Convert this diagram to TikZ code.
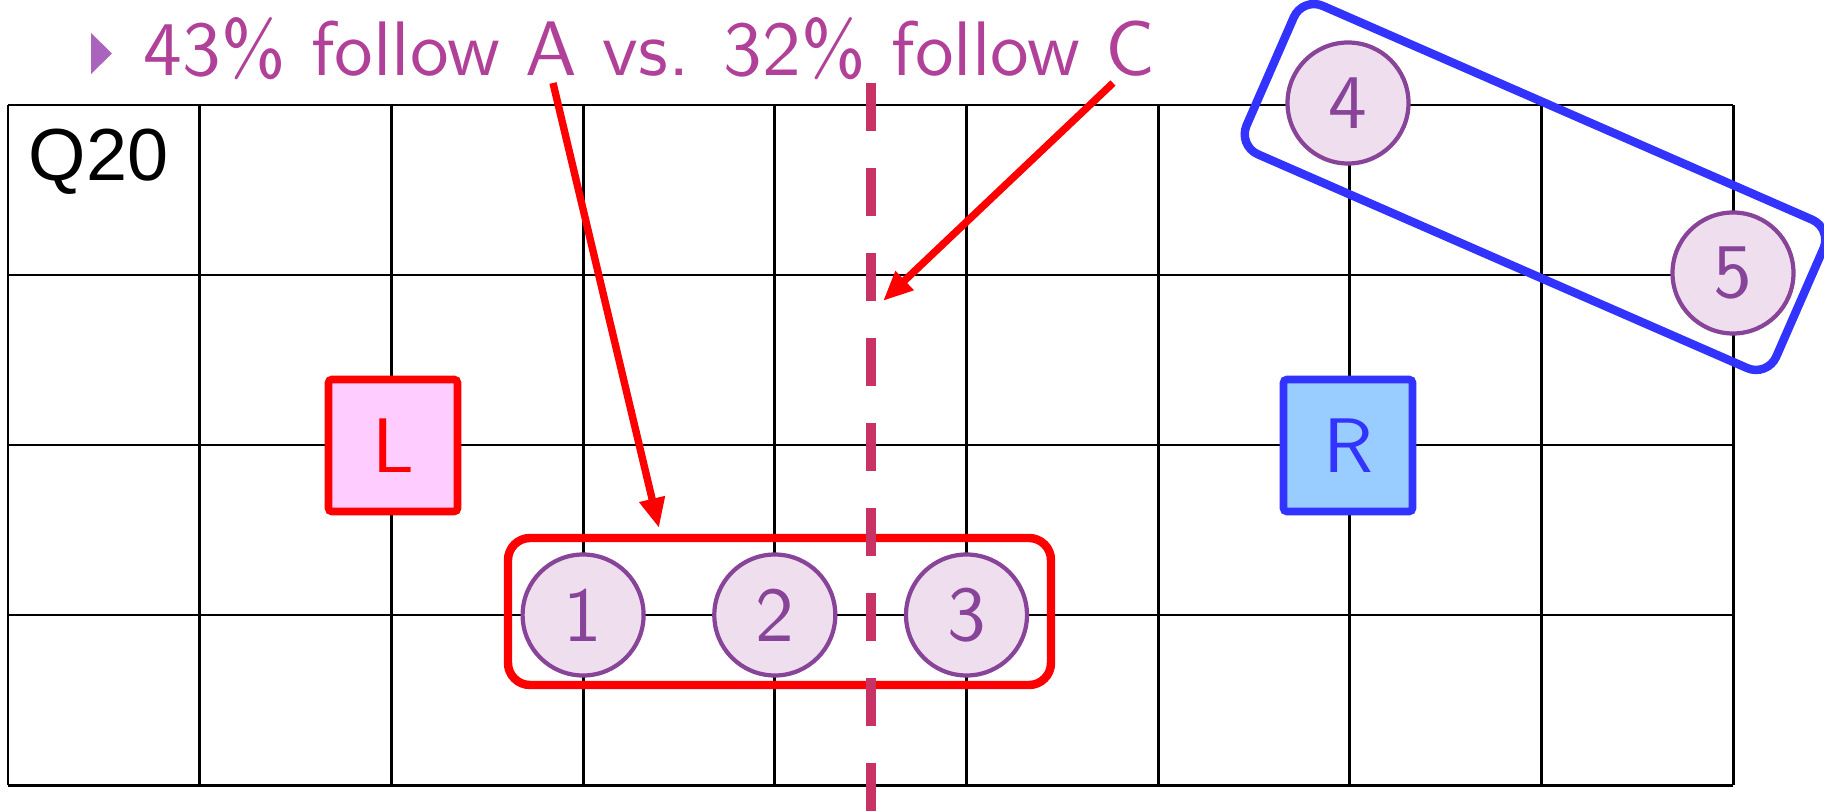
\documentclass[tikz,border=0pt]{standalone}
\usepackage{fontspec}
\newfontfamily\arialf{Liberation Sans}
\newfontfamily\lmsansten{lmsans10-regular.otf}
\usetikzlibrary{arrows.meta}
\definecolor{titlepurple}{RGB}{176,64,152}
\definecolor{bulletpurple}{RGB}{170,100,190}
\definecolor{dashcrimson}{RGB}{200,50,100}
\definecolor{circfill}{RGB}{238,222,238}
\definecolor{circdraw}{RGB}{136,68,153}
\definecolor{myblue}{RGB}{51,51,255}
\definecolor{rfill}{RGB}{153,204,255}
\definecolor{lfill}{RGB}{255,204,255}
\tikzset{
  gridline/.style={line width=0.85pt, black},
  bigtxt/.style={font=\lmsansten\fontsize{22pt}{26pt}\selectfont},
  person/.style={circle, draw=circdraw, fill=circfill, line width=1.2pt,
    minimum size=1.21cm, inner sep=0pt, text=circdraw, bigtxt},
  sidebox/.style={rectangle, line width=2.2pt, rounded corners=1pt,
    minimum width=1.29cm, minimum height=1.32cm, inner sep=0pt, bigtxt},
  groupbox/.style={rectangle, line width=2.4pt, rounded corners=0.22cm, inner sep=0pt},
  callout/.style={red, line width=2.1pt, -{Triangle[length=8.5pt,width=7pt]}},
  splitline/.style={dashcrimson, line width=3.1pt, dash pattern=on 0.48cm off 0.37cm}
}
\begin{document}
\begin{tikzpicture}
\useasboundingbox (0,0) rectangle (18.24,-8.11);
% grid
\foreach \i in {0,...,9} {
  \draw[gridline] ({0.08+\i*1.917},-1.05) -- ({0.08+\i*1.917},-7.85);
}
\foreach \j in {0,...,4} {
  \draw[gridline] (0.08,{-1.05-\j*1.7}) -- (17.333,{-1.05-\j*1.7});
}
% label
\node[anchor=base west, inner sep=0pt, font=\arialf\fontsize{21pt}{25pt}\selectfont] (q) at (0.28,-1.80) {Q20};
% title
\fill[bulletpurple] (0.91,-0.33) -- (1.12,-0.535) -- (0.91,-0.74) -- cycle;
\node[anchor=base west, inner sep=0pt, text=titlepurple, bigtxt] (title) at (1.43,-0.75) {43\% follow A vs. 32\% follow C};
% groups
\node[groupbox, draw=red, minimum width=5.43cm, minimum height=1.47cm] (grpA) at (7.795,-6.115) {};
\node[groupbox, draw=myblue, minimum width=5.78cm, minimum height=1.62cm, rotate=-23.6] (grpB) at (15.35,-1.87) {};
% side boxes
\node[sidebox, draw=red, fill=lfill, text=red] (L) at (3.93,-4.455) {L};
\node[sidebox, draw=myblue, fill=rfill, text=myblue] (R) at (13.48,-4.455) {R};
% people
\node[person] (c1) at (5.831,-6.15) {1};
\node[person] (c2) at (7.748,-6.15) {2};
\node[person] (c3) at (9.665,-6.15) {3};
\node[person] (c4) at (13.48,-1.03) {4};
\node[person] (c5) at (17.33,-2.73) {5};
% dashed split
\coordinate (splittop) at (8.71,-0.83);
\coordinate (splitbot) at (8.71,-8.11);
\draw[splitline] (splittop) -- (splitbot);
% callouts
\coordinate (fromA) at (5.53,-0.83);
\coordinate (tipA) at (6.59,-5.28);
\coordinate (fromC) at (11.13,-0.83);
\coordinate (tipC) at (8.83,-3.01);
\draw[callout] (fromA) -- (tipA);
\draw[callout] (fromC) -- (tipC);
\end{tikzpicture}
\end{document}
